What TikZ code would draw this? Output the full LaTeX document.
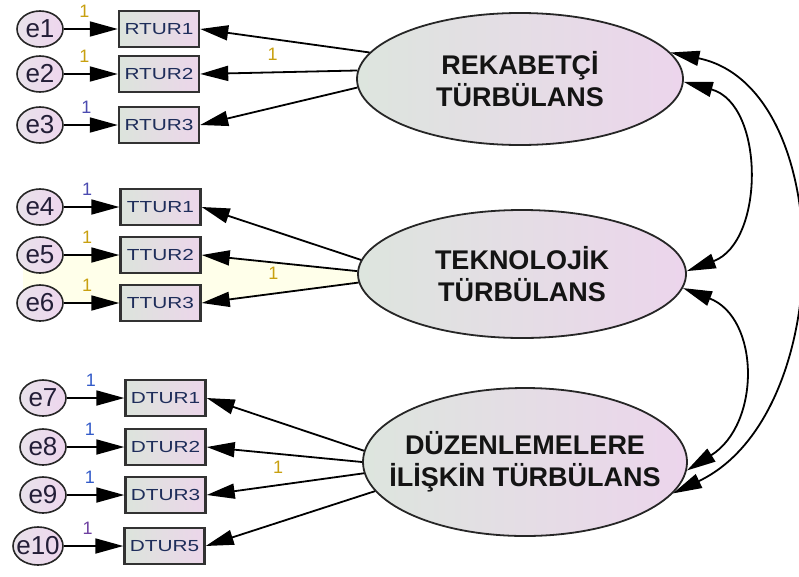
\documentclass[tikz,border=0pt]{standalone}
\usepackage{fontspec}
\setmainfont{Liberation Sans}
\newfontfamily\boxfont[FakeStretch=1.3]{Liberation Sans}
\usetikzlibrary{arrows.meta,shapes.geometric,backgrounds}

\definecolor{latL}{RGB}{221,229,222}
\definecolor{latR}{RGB}{236,213,236}
\definecolor{boxL}{RGB}{220,228,220}
\definecolor{boxR}{RGB}{236,214,234}
\definecolor{errL}{RGB}{232,226,234}
\definecolor{errR}{RGB}{238,214,238}
\definecolor{boxline}{RGB}{50,50,50}
\definecolor{boxtxt}{RGB}{30,45,90}
\definecolor{errtxt}{RGB}{35,30,55}
\definecolor{gold}{RGB}{200,160,16}
\definecolor{oneblue}{RGB}{50,90,200}
\definecolor{oneviolet}{RGB}{75,75,176}
\definecolor{onepurple}{RGB}{110,64,160}
\definecolor{paleyellow}{RGB}{255,255,234}

\begin{document}
\begin{tikzpicture}[x=1pt, y=-1pt,
  every node/.style={inner sep=0pt},
  latent/.style={ellipse, draw=black!85, line width=1.8pt,
    left color=latL, right color=latR, align=center,
    inner xsep=-40pt, inner ysep=0pt, text=black!92,
    font=\fontsize{27}{32}\selectfont\bfseries},
  obsbox/.style={rectangle, draw=boxline, line width=2.4pt,
    minimum width=80pt, minimum height=36pt,
    left color=boxL, right color=boxR, text=boxtxt,
    font=\boxfont\fontsize{16}{18}\selectfont},
  errvar/.style={ellipse, draw=black!85, line width=1.6pt,
    minimum width=46pt, minimum height=36pt, inner xsep=-10pt,
    left color=errL, right color=errR, text=errtxt,
    font=\fontsize{26}{28}\selectfont},
  regpath/.style={line width=1.8pt, -{Triangle[length=28pt,width=15pt]}},
  cov/.style={line width=1.8pt,
    {Triangle[length=29pt,width=15pt]}-{Triangle[length=29pt,width=15pt]}},
  one/.style={font=\fontsize{18}{18}\selectfont},
]
\useasboundingbox (0,0) rectangle (799,576);

% latent constructs
\node[latent, minimum width=326pt, minimum height=132pt] (R) at (520,79)
  {REKABETÇİ\\TÜRBÜLANS};
\node[latent, minimum width=328pt, minimum height=128pt] (T) at (522,274)
  {TEKNOLOJİK\\TÜRBÜLANS};
\node[latent, minimum width=324pt, minimum height=148pt] (D) at (525,462)
  {DÜZENLEMELERE\\İLİŞKİN TÜRBÜLANS};

% observed indicators
\node[obsbox] (r1) at (159,29)  {RTUR1};
\node[obsbox] (r2) at (159,74)  {RTUR2};
\node[obsbox] (r3) at (159,125) {RTUR3};
\node[obsbox] (t1) at (160.5,207) {TTUR1};
\node[obsbox] (t2) at (160.5,255) {TTUR2};
\node[obsbox] (t3) at (160.5,303) {TTUR3};
\node[obsbox] (d1) at (165.5,398) {DTUR1};
\node[obsbox] (d2) at (165.5,447) {DTUR2};
\node[obsbox] (d3) at (165.5,495) {DTUR3};
\node[obsbox] (d5) at (164.5,546) {DTUR5};

% error terms
\node[errvar] (e1) at (40,29)  {e1};
\node[errvar] (e2) at (40,74)  {e2};
\node[errvar] (e3) at (40,125) {e3};
\node[errvar] (e4) at (40,207) {e4};
\node[errvar] (e5) at (40,255) {e5};
\node[errvar] (e6) at (40,303) {e6};
\node[errvar] (e7) at (43,398) {e7};
\node[errvar] (e8) at (43,447) {e8};
\node[errvar] (e9) at (43,495) {e9};
\node[errvar, minimum width=50pt, minimum height=38pt] (e10) at (38,546) {e10};

% pale highlight between the TTUR2 and TTUR3 paths
\begin{scope}[on background layer]
  \fill[paleyellow] (e5.south west) -- (e5.center) -- (t2.east) -- (T.179)
    -- (T.183) -- (t3.east) -- (e6.center) -- (e6.north west) -- cycle;
\end{scope}

% error paths
\draw[regpath] (e1) -- node[one, pos=.38, above=11pt, text=gold]{1} (r1);
\draw[regpath] (e2) -- node[one, pos=.38, above=11pt, text=gold]{1} (r2);
\draw[regpath] (e3) -- node[one, pos=.42, above=11pt, text=oneviolet]{1} (r3);
\draw[regpath] (e4) -- node[one, pos=.42, above=11pt, text=oneviolet]{1} (t1);
\draw[regpath] (e5) -- node[one, pos=.42, above=11pt, text=gold]{1} (t2);
\draw[regpath] (e6) -- node[one, pos=.42, above=11pt, text=gold]{1} (t3);
\draw[regpath] (e7) -- node[one, pos=.42, above=11pt, text=oneblue]{1} (d1);
\draw[regpath] (e8) -- node[one, pos=.40, above=11pt, text=oneblue]{1} (d2);
\draw[regpath] (e9) -- node[one, pos=.40, above=11pt, text=oneblue]{1} (d3);
\draw[regpath] (e10) -- node[one, pos=.40, above=11pt, text=onepurple]{1} (d5);

% factor loadings
\draw[regpath] (R.170) -- (r1.east);
\draw[regpath] (R.177) -- node[one, pos=.54, above=11pt, text=gold]{1} (r2.east);
\draw[regpath] (R.183) -- (r3.east);
\draw[regpath] (T.175) -- (t1.east);
\draw[regpath] (T.179) -- node[one, pos=.54, below=4pt, text=gold]{1} (t2.east);
\draw[regpath] (T.183) -- (t3.east);
\draw[regpath] (D.176) -- (d1.east);
\draw[regpath] (D.180) -- node[one, pos=.54, below=6pt, text=gold]{1} (d2.east);
\draw[regpath] (D.184) -- (d3.east);
\draw[regpath] (D.191) -- (d5.east);

% covariances between the constructs
\draw[cov] (R.-1) .. controls (765,104) and (765,242) .. (T.1);
\draw[cov] (T.-5) .. controls (760,318) and (761,424) .. (D.-3);
\draw[cov] (R.10) .. controls (838,87) and (838,415) .. (D.-12);
\end{tikzpicture}
\end{document}
